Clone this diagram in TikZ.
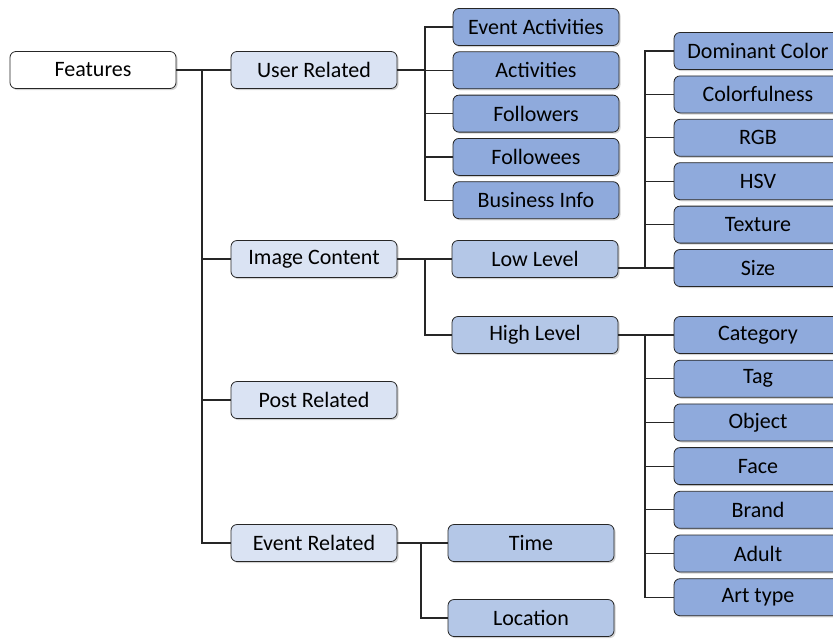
\documentclass[tikz,border=0pt]{standalone}
\usepackage{fontspec}
\setmainfont{Carlito}
\usetikzlibrary{positioning,shadows}
\definecolor{grpblue}{HTML}{DAE3F3}
\definecolor{subblue}{HTML}{B4C7E7}
\definecolor{leafblue}{HTML}{8FAADC}

\begin{document}
\begin{tikzpicture}[x=0.5pt,y=-0.5pt,
  box/.style={draw=black!85,rounded corners=3pt,minimum width=83pt,minimum height=18.5pt,inner sep=0pt,
    font=\fontsize{11}{13}\selectfont,drop shadow={shadow xshift=0.8pt,shadow yshift=-0.8pt,opacity=0.35}},
  rootbox/.style={box,fill=white},
  grpbox/.style={box,fill=grpblue},
  subbox/.style={box,fill=subblue},
  leafbox/.style={box,fill=leafblue,minimum width=84pt},
  link/.style={draw=black!85,line width=0.6pt}]
  \clip (0,0) rectangle (833,638);
  % root and first level
  \node[rootbox](feat) at (93,70){Features};
  \node[grpbox](ur) at (314,70){User Related};
  \node[grpbox](ic) at (314,259){Image Content};
  \node[grpbox](pr) at (314,400){Post Related};
  \node[grpbox](er) at (314,543){Event Related};
  % second level
  \node[subbox](low) at (535,259){Low Level};
  \node[subbox](high) at (535,335){High Level};
  \node[subbox](time) at (531,543){Time};
  \node[subbox](loc) at (531,618){Location};
  % leaves
  \foreach \txt [count=\i] in {Event Activities,Activities,Followers,Followees,Business Info}
    \node[leafbox,minimum width=83pt](us\i) at (536,{27+43.3*(\i-1)}){\txt};
  \foreach \txt [count=\i] in {Dominant Color,Colorfulness,RGB,HSV,Texture,Size}
    \node[leafbox](ll\i) at (758,{51+43.4*(\i-1)}){\txt};
  \foreach \txt [count=\i] in {Category,Tag,Object,Face,Brand,Adult,Art type}
    \node[leafbox](hl\i) at (758,{335+43.7*(\i-1)}){\txt};

  % connectors
  \coordinate (j1) at (202,70);
  \coordinate (j2) at (425,70);
  \coordinate (j3) at (425,259);
  \coordinate (j4) at (645,268);
  \coordinate (j5) at (645,335);
  \coordinate (j6) at (421,543);
  \draw[link] (feat.east) -- (ur.west);
  \foreach \n in {ic,pr,er} \draw[link] (j1) |- (\n.west);
  \draw[link] (ur.east) -- (j2);
  \foreach \i in {1,...,5} \draw[link] (j2) |- (us\i.west);
  \draw[link] (ic.east) -- (low.west);
  \draw[link] (j3) |- (high.west);
  \draw[link] (low.east |- ll6.west) -- (ll6.west);
  \foreach \i in {1,...,6} \draw[link] (j4) |- (ll\i.west);
  \draw[link] (high.east) -- (hl1.west);
  \foreach \i in {1,...,7} \draw[link] (j5) |- (hl\i.west);
  \draw[link] (er.east) -- (time.west);
  \draw[link] (j6) |- (loc.west);
\end{tikzpicture}
\end{document}
